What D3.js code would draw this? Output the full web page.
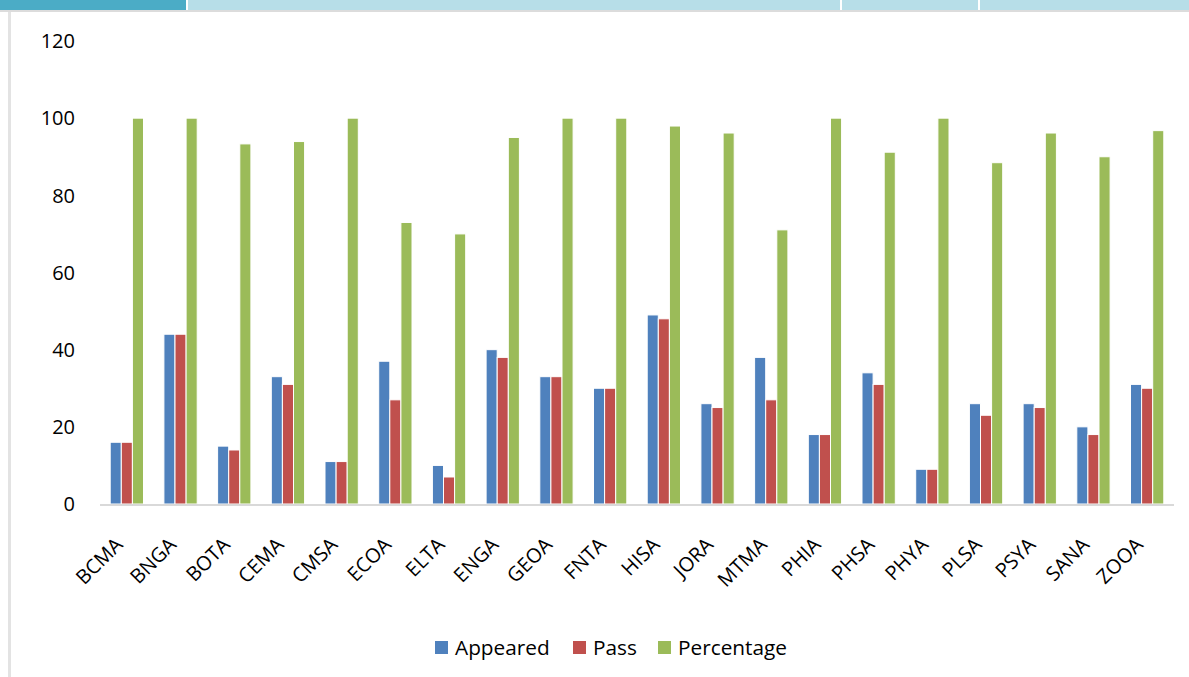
<!DOCTYPE html>
<html>
<head>
<meta charset="utf-8">
<script src="https://cdn.jsdelivr.net/npm/d3@7"></script>
<style>
  html, body { margin: 0; padding: 0; background: #fff; }
  svg { display: block; }
  text { font-family: "Open Sans", "Noto Sans", sans-serif; fill: #000; }
</style>
</head>
<body>
<svg id="chart" width="1189" height="677"></svg>
<script>
const categories = ["BCMA","BNGA","BOTA","CEMA","CMSA","ECOA","ELTA","ENGA","GEOA","FNTA","HISA","JORA","MTMA","PHIA","PHSA","PHYA","PLSA","PSYA","SANA","ZOOA"];
const appeared = [16,44,15,33,11,37,10,40,33,30,49,26,38,18,34,9,26,26,20,31];
const pass = [16,44,14,31,11,27,7,38,33,30,48,25,27,18,31,9,23,25,18,30];
const percentage = [100,100,93.33,93.94,100,72.97,70,95,100,100,97.96,96.15,71.05,100,91.18,100,88.46,96.15,90,96.77];
const seriesNames = ["Appeared","Pass","Percentage"];
const seriesColors = ["#4F81BD","#C0504D","#9BBB59"];
const yTicks = [0,20,40,60,80,100,120];

const svg = d3.select("#chart");

// header strip and frame
const strip = [[0,186,"#4BACC6"],[188,840,"#B7DEE8"],[842,978,"#B7DEE8"],[980,1189,"#B7DEE8"]];
svg.selectAll("rect.strip").data(strip).enter().append("rect")
  .attr("x", d => d[0]).attr("y", 0).attr("width", d => d[1]-d[0]).attr("height", 10)
  .attr("fill", d => d[2]);
svg.append("rect").attr("x", 0).attr("y", 10).attr("width", 1189).attr("height", 2).attr("fill", "#DCDCDC");
svg.append("rect").attr("x", 8).attr("y", 12).attr("width", 3).attr("height", 665).attr("fill", "#E3E3E3");

const x0 = d3.scaleBand().domain(categories).range([100, 1174]).paddingInner(0.38).paddingOuter(0.19);
const x1 = d3.scaleBand().domain(seriesNames).range([0, x0.bandwidth()]).padding(0);
const y = d3.scaleLinear().domain([0, 120]).range([504, 41]);

// y tick labels
svg.append("g").selectAll("text").data(yTicks).enter().append("text")
  .attr("x", 75).attr("y", d => y(d)).attr("dy", "0.36em")
  .attr("text-anchor", "end").style("font-size", "20px").text(d => d);

// bars
const data = [appeared, pass, percentage];
const groups = svg.append("g").selectAll("g").data(categories).enter().append("g")
  .attr("transform", c => `translate(${x0(c)},0)`);
groups.selectAll("rect").data((c, i) => seriesNames.map((s, k) => ({s, v: data[k][i], k})))
  .enter().append("rect")
  .attr("x", d => x1(d.s)).attr("width", x1.bandwidth())
  .attr("y", d => y(d.v)).attr("height", d => y(0) - y(d.v))
  .attr("fill", d => seriesColors[d.k])
  .attr("stroke", "#fff").attr("stroke-width", 1);

// baseline
svg.append("line").attr("x1", 100).attr("x2", 1174).attr("y1", 505).attr("y2", 505)
  .attr("stroke", "#D9D9D9").attr("stroke-width", 2);

// x labels
svg.append("g").selectAll("text").data(categories).enter().append("text")
  .attr("transform", c => `translate(${x0(c) + x0.bandwidth()/2 - 3},${546}) rotate(-45)`)
  .attr("text-anchor", "end").style("font-size", "20px").text(c => c);

// legend
const legendX = [435, 573, 658];
const lg = svg.append("g").selectAll("g").data(seriesNames).enter().append("g")
  .attr("transform", (d, i) => `translate(${legendX[i]},641)`);
lg.append("rect").attr("width", 13).attr("height", 13).attr("fill", (d, i) => seriesColors[i]);
lg.append("text").attr("x", 20).attr("y", 6.5).attr("dy", "0.36em").style("font-size", "20.8px").text(d => d);
</script>
</body>
</html>
